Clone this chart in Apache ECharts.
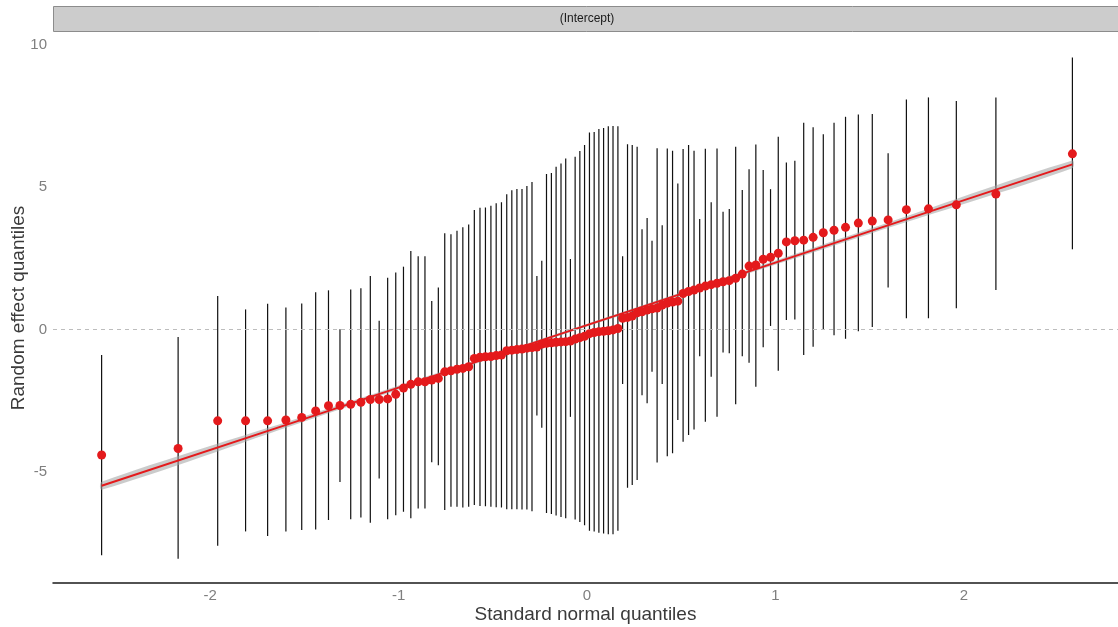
<!DOCTYPE html>
<html>
<head>
<meta charset="utf-8">
<script src="https://cdn.jsdelivr.net/npm/echarts@6/dist/echarts.min.js"></script>
<style>
  html, body { margin: 0; padding: 0; background: #ffffff; }
  #chart { width: 1118px; height: 627px; }
</style>
</head>
<body>
<div id="chart"></div>
<script>
// Theoretical standard normal quantiles of the 100 levels (sorted)
const quantiles = [
  -2.576,-2.170,-1.960,-1.812,-1.695,-1.598,-1.514,-1.440,-1.372,-1.311,
  -1.254,-1.200,-1.150,-1.103,-1.058,-1.015,-0.974,-0.935,-0.896,-0.860,
  -0.824,-0.789,-0.755,-0.722,-0.690,-0.659,-0.628,-0.598,-0.568,-0.539,
  -0.510,-0.482,-0.454,-0.426,-0.399,-0.372,-0.345,-0.319,-0.292,-0.266,
  -0.240,-0.215,-0.189,-0.164,-0.138,-0.113,-0.088,-0.063,-0.038,-0.013,
   0.013, 0.038, 0.063, 0.088, 0.113, 0.138, 0.164, 0.189, 0.215, 0.240,
   0.266, 0.292, 0.319, 0.345, 0.372, 0.399, 0.426, 0.454, 0.482, 0.510,
   0.539, 0.568, 0.598, 0.628, 0.659, 0.690, 0.722, 0.755, 0.789, 0.824,
   0.860, 0.896, 0.935, 0.974, 1.015, 1.058, 1.103, 1.150, 1.200, 1.254,
   1.311, 1.372, 1.440, 1.514, 1.598, 1.695, 1.812, 1.960, 2.170, 2.576
];

// Random intercept estimates (sorted)
const estimates = [
  -4.41,-4.18,-3.21,-3.21,-3.21,-3.18,-3.09,-2.86,-2.68,-2.67,
  -2.63,-2.56,-2.46,-2.46,-2.44,-2.28,-2.06,-1.93,-1.84,-1.84,
  -1.78,-1.72,-1.49,-1.45,-1.40,-1.37,-1.31,-1.02,-0.98,-0.96,
  -0.95,-0.92,-0.90,-0.75,-0.73,-0.71,-0.69,-0.66,-0.64,-0.62,
  -0.52,-0.49,-0.47,-0.45,-0.44,-0.43,-0.41,-0.34,-0.29,-0.24,
  -0.15,-0.11,-0.08,-0.07,-0.05,-0.02, 0.03, 0.39, 0.42, 0.47,
   0.58, 0.62, 0.68, 0.72, 0.75, 0.85, 0.92, 0.96, 0.99, 1.26,
   1.33, 1.38, 1.45, 1.52, 1.57, 1.62, 1.67, 1.71, 1.79, 1.94,
   2.22, 2.26, 2.46, 2.53, 2.67, 3.07, 3.11, 3.13, 3.23, 3.39,
   3.48, 3.58, 3.73, 3.80, 3.84, 4.20, 4.23, 4.37, 4.75, 6.16
];

// Lower and upper interval limits for each estimate
const lower = [
  -7.93,-8.05,-7.59,-7.09,-7.25,-7.09,-7.04,-7.02,-6.69,-5.36,
  -6.66,-6.60,-6.79,-5.23,-6.66,-6.52,-6.40,-6.63,-6.29,-6.29,
  -4.66,-4.77,-6.34,-6.22,-6.22,-6.25,-6.22,-6.16,-6.20,-6.21,
  -6.22,-6.24,-6.25,-6.31,-6.31,-6.31,-6.32,-6.32,-6.38,-3.02,
  -3.45,-6.44,-6.48,-6.53,-6.58,-6.63,-3.07,-6.67,-6.76,-6.87,
  -7.07,-7.09,-7.14,-7.16,-7.19,-7.19,-7.07,-1.92,-5.56,-5.46,
  -5.29,-2.31,-2.59,-1.49,-4.67,-1.92,-4.45,-4.35,-3.18,-3.94,
  -3.71,-3.51,-0.94,-3.24,-1.66,-3.07,-0.81,-0.84,-2.63,-0.94,
  -1.17,-2.01,-0.63, 0.12,-1.45, 0.33, 0.35,-0.90,-0.61,-0.02,
  -0.21,-0.33,-0.07, 0.08, 1.47, 0.39, 0.39, 0.74, 1.38, 2.81
];
const upper = [
  -0.90,-0.27, 1.17, 0.70, 0.90, 0.77, 0.91, 1.30, 1.37, 0.00,
   1.40, 1.44, 1.87, 0.30, 1.81, 2.00, 2.20, 2.75, 2.57, 2.57,
   1.00, 1.47, 3.37, 3.34, 3.46, 3.58, 3.68, 4.19, 4.27, 4.28,
   4.34, 4.43, 4.46, 4.74, 4.88, 4.93, 4.93, 5.03, 5.17, 1.87,
   2.41, 5.45, 5.49, 5.71, 5.82, 6.00, 2.47, 6.06, 6.26, 6.47,
   6.91, 6.93, 7.03, 7.07, 7.13, 7.14, 7.13, 2.57, 6.50, 6.47,
   6.41, 3.51, 3.91, 3.11, 6.36, 3.65, 6.35, 6.27, 5.12, 6.33,
   6.47, 6.27, 3.87, 6.34, 4.46, 6.35, 4.13, 4.22, 6.41, 4.89,
   5.62, 6.49, 5.59, 4.92, 6.76, 5.86, 5.92, 7.25, 7.09, 6.85,
   7.25, 7.46, 7.54, 7.56, 6.18, 8.07, 8.14, 8.01, 8.14, 9.54
];

// Linear fit through the QQ points and its confidence band
const fitX  = [-2.576, -1.5, 0, 1.5, 2.576];
const fitY  = [-5.49, -3.14, 0.15, 3.44, 5.79];
const fitLo = [-5.63, -3.23, 0.10, 3.35, 5.65];
const fitHi = [-5.35, -3.05, 0.20, 3.53, 5.93];

// Tick labels
const xTicks = [-2, -1, 0, 1, 2];
const yTicks = [-5, 0, 5, 10];

const FONT = '"Liberation Sans", Arial, sans-serif';
const RED = '#E41A1C';

const chart = echarts.init(document.getElementById('chart'), null, { renderer: 'canvas' });

const errorData = quantiles.map((q, i) => [q, lower[i], upper[i]]);
const pointData = quantiles.map((q, i) => [q, estimates[i]]);
const bandData = fitX.map((x, i) => [x, fitLo[i], fitHi[i]]);
const fitData = fitX.map((x, i) => [x, fitY[i]]);

const option = {
  animation: false,
  backgroundColor: '#ffffff',
  grid: {
    left: 53, top: 33, right: 0, bottom: 44,
    containLabel: false,
    outerBoundsMode: 'none'
  },
  graphic: [
    {
      type: 'rect',
      shape: { x: 53.5, y: 6.5, width: 1070, height: 25 },
      style: { fill: '#cccccc', stroke: '#8c8c8c', lineWidth: 1 },
      silent: true
    },
    {
      type: 'text',
      x: 587, y: 19,
      style: {
        text: '(Intercept)', fill: '#1a1a1a', font: '12px ' + FONT,
        textAlign: 'center', textVerticalAlign: 'middle'
      },
      silent: true
    }
  ],
  xAxis: {
    type: 'value',
    min: -2.834, max: 2.818,
    name: 'Standard normal quantiles',
    nameLocation: 'middle',
    nameGap: 22,
    nameMoveOverlap: false,
    nameTextStyle: { color: '#3a3a3a', fontSize: 19, fontFamily: FONT },
    axisLine: { show: true, onZero: false, lineStyle: { color: '#1a1a1a', width: 1.5 } },
    axisTick: { show: false },
    splitLine: { show: false },
    axisLabel: {
      customValues: xTicks,
      color: '#7f7f7f', fontSize: 15, fontFamily: FONT, margin: 5
    }
  },
  yAxis: {
    type: 'value',
    min: -8.9, max: 10.4,
    name: 'Random effect quantiles',
    nameLocation: 'middle',
    nameGap: 25,
    nameMoveOverlap: false,
    nameRotate: 90,
    nameTextStyle: { color: '#3a3a3a', fontSize: 19, fontFamily: FONT },
    axisLine: { show: false, onZero: false },
    axisTick: { show: false },
    splitLine: { show: false },
    axisLabel: {
      customValues: yTicks,
      color: '#7f7f7f', fontSize: 15, fontFamily: FONT, margin: 6
    }
  },
  series: [
    {
      // vertical interval bars
      type: 'custom',
      name: 'intervals',
      data: errorData,
      encode: { x: 0, y: [1, 2] },
      renderItem: function (params, api) {
        const x = api.value(0);
        const p1 = api.coord([x, api.value(1)]);
        const p2 = api.coord([x, api.value(2)]);
        return {
          type: 'line',
          shape: { x1: p1[0], y1: p1[1], x2: p2[0], y2: p2[1] },
          style: { stroke: '#111111', lineWidth: 1.2 }
        };
      },
      z: 2
    },
    {
      // confidence band of the fit
      type: 'custom',
      name: 'band',
      data: bandData,
      encode: { x: 0, y: [1, 2] },
      renderItem: function (params, api) {
        if (params.dataIndex !== 0) return null;
        const pts = [];
        bandData.forEach(d => pts.push(api.coord([d[0], d[2]])));
        for (let i = bandData.length - 1; i >= 0; i--) {
          pts.push(api.coord([bandData[i][0], bandData[i][1]]));
        }
        return {
          type: 'polygon',
          shape: { points: pts, smooth: 0.3 },
          style: { fill: 'rgba(160,160,160,0.55)' }
        };
      },
      z: 3
    },
    {
      type: 'line',
      name: 'fit',
      data: fitData,
      showSymbol: false,
      symbol: 'none',
      lineStyle: { color: RED, width: 2 },
      z: 4
    },
    {
      type: 'scatter',
      name: 'estimates',
      data: pointData,
      symbol: 'circle',
      symbolSize: 9,
      itemStyle: { color: RED, opacity: 1 },
      z: 5,
      markLine: {
        silent: true,
        symbol: 'none',
        label: { show: false },
        lineStyle: { color: '#bdbdbd', type: [4, 4], width: 1 },
        data: [{ yAxis: 0 }]
      }
    }
  ]
};

chart.setOption(option);
</script>
</body>
</html>
